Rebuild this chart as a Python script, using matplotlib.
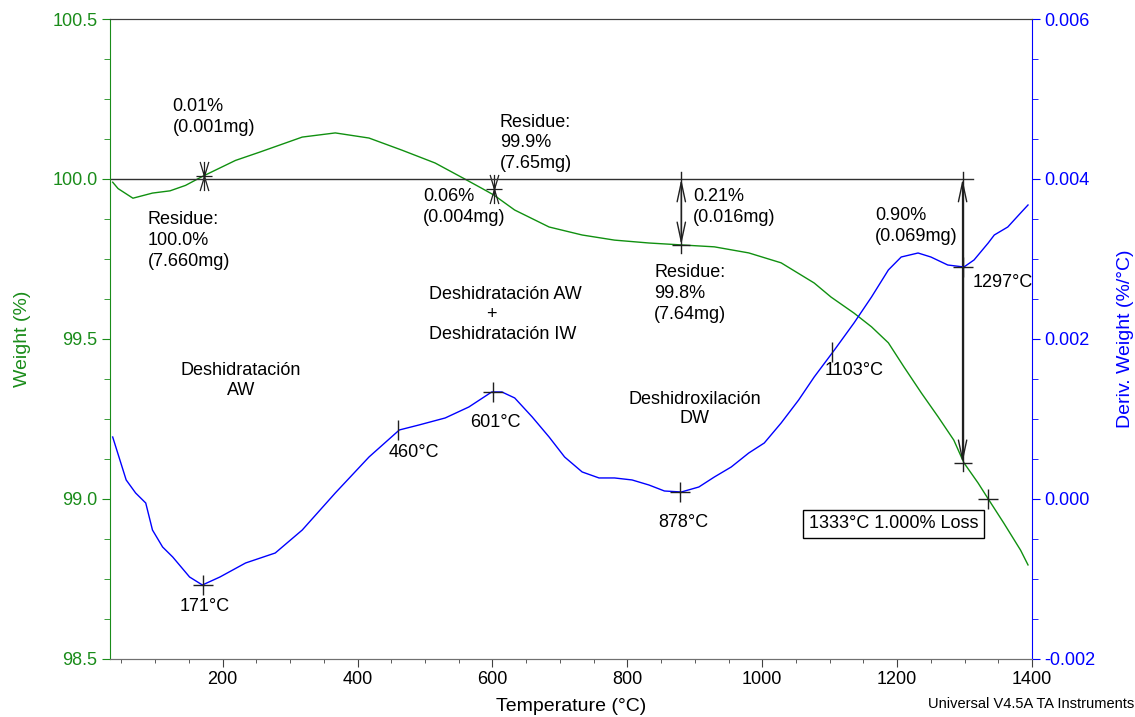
import matplotlib.pyplot as plt
from matplotlib.path import Path
from matplotlib.ticker import MultipleLocator

plt.rcParams['font.family'] = ['Liberation Sans', 'DejaVu Sans']

# TGA weight curve (green, left axis)
tg_temp = [37, 45, 67, 96, 122, 145, 170, 219, 255, 318, 367, 417, 466, 515, 559, 585, 602,
           633, 684, 733, 781, 832, 880, 929, 980, 1028, 1077, 1102, 1136, 1162, 1187, 1210,
           1236, 1261, 1284, 1299, 1320, 1336, 1358, 1383, 1394]
tg_weight = [99.99, 99.97, 99.94, 99.956, 99.963, 99.98, 100.008, 100.058, 100.084, 100.131,
             100.144, 100.128, 100.09, 100.05, 100.0, 99.97, 99.95, 99.903, 99.85, 99.825,
             99.809, 99.8, 99.794, 99.788, 99.769, 99.738, 99.675, 99.631, 99.581, 99.538,
             99.488, 99.413, 99.331, 99.256, 99.184, 99.113, 99.05, 98.997, 98.925, 98.84,
             98.794]

# derivative curve (blue, right axis)
dtg_temp = [37, 57, 71, 86, 96, 111, 126, 151, 170, 196, 234, 278, 318, 367, 417, 462, 491,
            530, 565, 599, 614, 633, 659, 684, 707, 733, 758, 781, 807, 832, 855, 880, 906,
            929, 954, 980, 1003, 1028, 1054, 1077, 1107, 1136, 1162, 1187, 1206, 1231, 1250,
            1275, 1299, 1314, 1335, 1344, 1364, 1383, 1394]
dtg_deriv = [0.000775, 0.000238, 0.000075, -0.00005, -0.000388, -0.0006, -0.000725, -0.000975,
             -0.001075, -0.000975, -0.0008, -0.000675, -0.000388, 0.000075, 0.000525, 0.000863,
             0.000925, 0.001013, 0.00115, 0.001338, 0.001338, 0.001263, 0.001025, 0.000775,
             0.000525, 0.000338, 0.000263, 0.000263, 0.000238, 0.000175, 0.0001, 0.0000875,
             0.00015, 0.000275, 0.0004, 0.000575, 0.0007, 0.00095, 0.001238, 0.001525, 0.001863,
             0.0022, 0.002525, 0.002863, 0.003025, 0.003075, 0.003025, 0.002925, 0.0029,
             0.002988, 0.0032, 0.0033, 0.0034, 0.003575, 0.003675]

# peak markers on the derivative curve
peak_temp = [171, 601, 878, 1297]
peak_deriv = [-0.001075, 0.001338, 0.0000875, 0.0029]
onset_temp = [460, 1103]
onset_deriv = [0.000863, 0.001838]

GREEN = '#1a8c1a'
BLUE = '#0000ff'
INK = '#202020'
FS = 13

fig = plt.figure(figsize=(11.35, 7.17), dpi=100)
ax = fig.add_axes([0.0969, 0.0809, 0.8124, 0.8926])
ax2 = ax.twinx()

ax.plot(tg_temp, tg_weight, color='#109010', lw=1.0)
ax2.plot(dtg_temp, dtg_deriv, color=BLUE, lw=1.0)

ax.set_xlim(33, 1400)
ax.set_ylim(98.5, 100.5)
ax2.set_ylim(-0.002, 0.006)

ax.xaxis.set_major_locator(MultipleLocator(200))
ax.xaxis.set_minor_locator(MultipleLocator(50))
ax.yaxis.set_major_locator(MultipleLocator(0.5))
ax.yaxis.set_minor_locator(MultipleLocator(0.125))
ax2.yaxis.set_major_locator(MultipleLocator(0.002))
ax2.yaxis.set_minor_locator(MultipleLocator(0.0005))
ax.yaxis.set_major_formatter(plt.FormatStrFormatter('%.1f'))
ax2.yaxis.set_major_formatter(plt.FormatStrFormatter('%.3f'))

ax.tick_params(axis='x', which='major', direction='out', length=5.5, labelsize=FS,
               colors='#404040', labelcolor='black')
ax.tick_params(axis='x', which='minor', direction='out', length=3, colors='#404040')
ax.tick_params(axis='y', which='major', direction='out', length=5.5, labelsize=FS, colors=GREEN)
ax.tick_params(axis='y', which='minor', direction='out', length=4, colors=GREEN)
ax2.tick_params(axis='y', which='major', direction='out', length=5.5, labelsize=FS, colors=BLUE)
ax2.tick_params(axis='y', which='minor', direction='out', length=4, colors=BLUE)

ax.spines['left'].set_color(GREEN)
ax2.spines['left'].set_visible(False)
ax2.spines['right'].set_color(BLUE)
ax.spines['right'].set_visible(False)
for a in (ax, ax2):
    a.spines['top'].set_color('#404040')
    a.spines['bottom'].set_color('#707070')

ax.set_xlabel('Temperature (°C)', fontsize=14, labelpad=7)
ax.set_ylabel('Weight (%)', fontsize=14, color=GREEN, labelpad=15)
ax2.set_ylabel('Deriv. Weight (%/°C)', fontsize=14, color=BLUE, labelpad=15)

# step marker used by the TA software
step_path = Path([(0, -1), (0, 1), (-0.3, -1), (0.3, 1), (0.3, -1), (-0.3, 1), (-0.55, 0), (0.55, 0)],
                 [Path.MOVETO, Path.LINETO] * 4)
ax.plot([172, 602], [100.01, 99.97], ls='none', marker=step_path, ms=21, mec=INK, mew=0.9)

# baseline at 100 %
base_w = 100.0
base_end = 1312
ax.plot([33, base_end], [base_w, base_w], color='#303030', lw=1.0)

# loss arrows
arrow_temp = [880, 1297]
arrow_weight = [99.794, 99.113]
for t, w in zip(arrow_temp, arrow_weight):
    ax.plot([t, t], [base_w + 0.022, w - 0.025], color=INK, lw=1.0)
    ax.annotate('', xy=(t, w), xytext=(t, base_w),
                arrowprops=dict(arrowstyle='<->,head_length=1.4,head_width=0.3',
                                color=INK, lw=1.0, shrinkA=0, shrinkB=0, mutation_scale=10))
    ax.plot(t, w, marker='_', ms=13, mec=INK, mew=1.0)

# 1% loss point
ax.plot(1335, 99.0, marker='+', ms=14, mec=INK, mew=1.0)
ax.text(1320, 98.923, '1333°C 1.000% Loss', fontsize=FS, ha='right', va='center',
        bbox=dict(boxstyle='square,pad=0.3', fc='white', ec='black', lw=1.0))

ax2.plot(peak_temp, peak_deriv, ls='none', marker='+', ms=14, mec=INK, mew=1.0)
ax2.plot(onset_temp, onset_deriv, ls='none', marker='|', ms=14, mec=INK, mew=1.0)

# weight annotations (left edge, block centre)
LS = 1.3
ax.text(126, 100.194, '0.01%\n(0.001mg)', fontsize=FS, va='center', linespacing=LS)
ax.text(89, 99.809, 'Residue:\n100.0%\n(7.660mg)', fontsize=FS, va='center', linespacing=LS)
ax.text(611, 100.1125, 'Residue:\n99.9%\n(7.65mg)', fontsize=FS, va='center', linespacing=LS)
ax.text(497, 99.9125, '0.06%\n(0.004mg)', fontsize=FS, va='center', linespacing=LS)
ax.text(897, 99.9125, '0.21%\n(0.016mg)', fontsize=FS, va='center', linespacing=LS)
ax.text(840, 99.641, 'Residue:\n99.8%\n(7.64mg)', fontsize=FS, va='center', linespacing=LS)
ax.text(1167, 99.853, '0.90%\n(0.069mg)', fontsize=FS, va='center', linespacing=LS)

# peak labels
ax.text(1312, 99.678, '1297°C', fontsize=FS, ha='left', va='center')
ax.text(1092, 99.403, '1103°C', fontsize=FS, ha='left', va='center')
ax.text(883, 98.928, '878°C', fontsize=FS, ha='center', va='center')
ax.text(604, 99.2375, '601°C', fontsize=FS, ha='center', va='center')
ax.text(484, 99.144, '460°C', fontsize=FS, ha='center', va='center')
ax.text(173, 98.6625, '171°C', fontsize=FS, ha='center', va='center')

# process labels
ax.text(227, 99.37, 'Deshidratación\nAW', fontsize=FS, ha='center', va='center', linespacing=1.2)
ax.text(506, 99.6375, 'Deshidratación AW', fontsize=FS, ha='left', va='center')
ax.text(599, 99.575, '+', fontsize=FS, ha='center', va='center')
ax.text(506, 99.5125, 'Deshidratación IW', fontsize=FS, ha='left', va='center')
ax.text(900, 99.281, 'Deshidroxilación\nDW', fontsize=FS, ha='center', va='center',
        linespacing=1.2)

fig.text(0.999, 0.008, 'Universal V4.5A TA Instruments', fontsize=10.5, ha='right', va='bottom')

fig.savefig('out.png', dpi=100)
